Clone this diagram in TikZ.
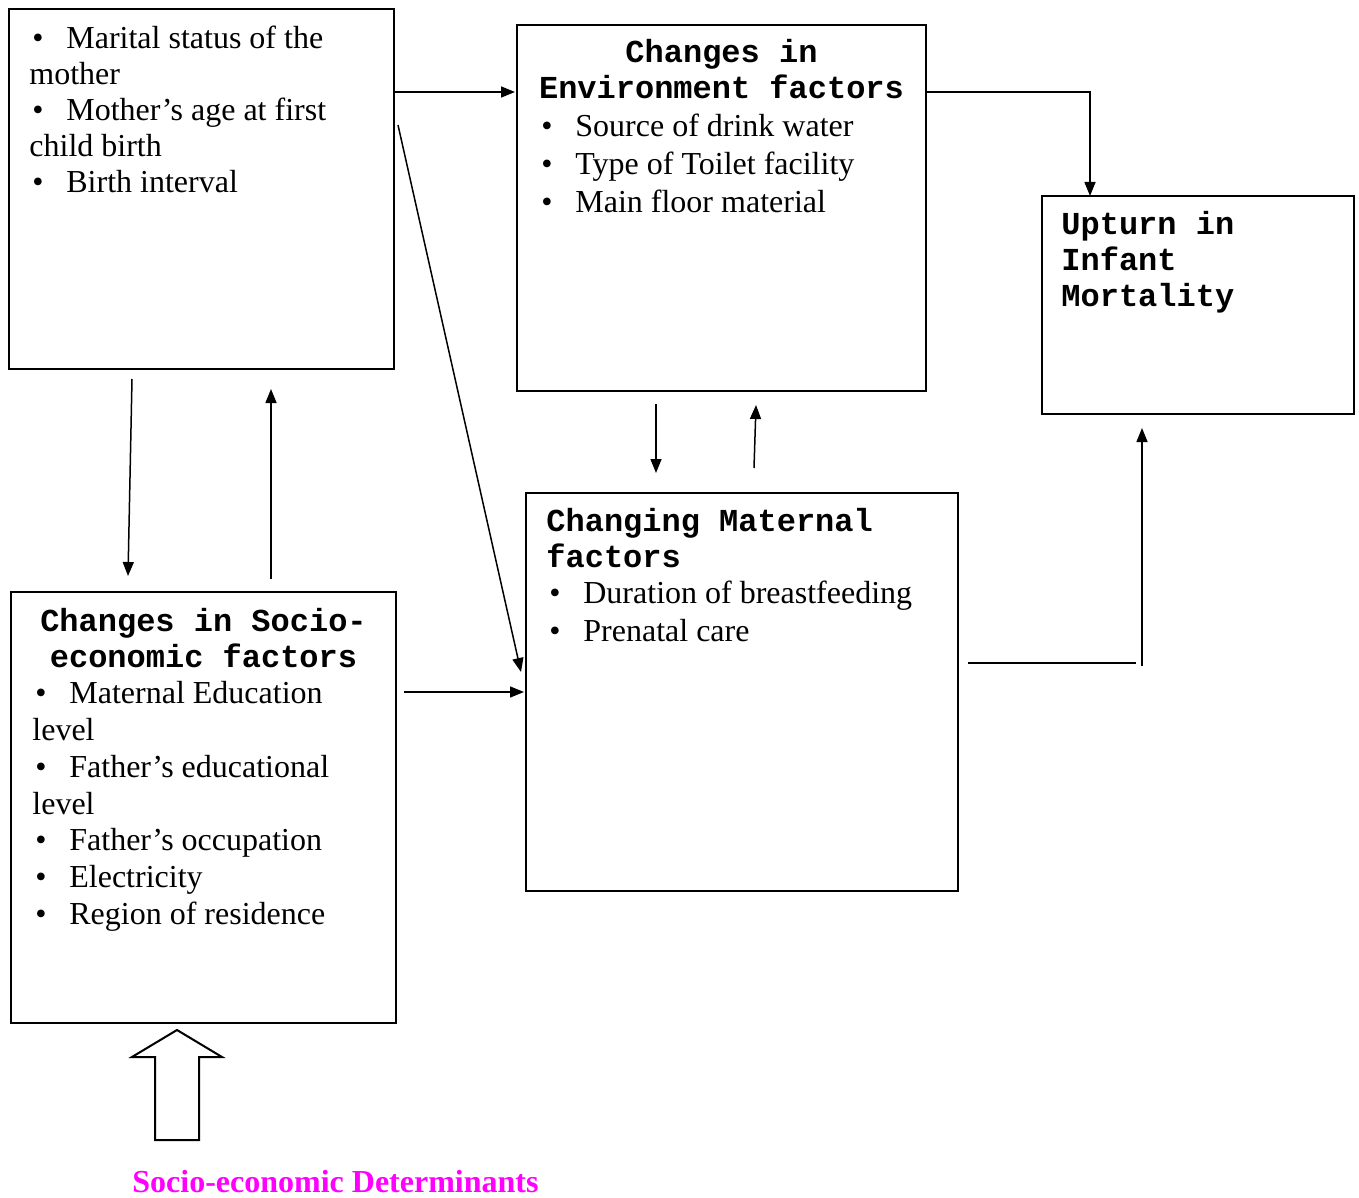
\documentclass[tikz,border=0pt]{standalone}
\usepackage{fontspec}
\setmainfont{Liberation Serif}
\newfontfamily\monofont{Liberation Mono}
\usetikzlibrary{arrows.meta,positioning}
\definecolor{determ}{HTML}{FF00FF}
\newcommand{\itm}{\hspace{1.5pt}\makebox[17pt][l]{\textbullet}}

\begin{document}
\begin{tikzpicture}[x=0.5pt,y=-0.5pt,
  box/.style={draw,line width=1pt,inner sep=0pt,outer sep=0pt,anchor=north west},
  txt/.style={inner sep=0pt,align=left,anchor=north west,font=\fontsize{16pt}{18.4pt}\selectfont},
  ttl/.style={inner sep=0pt,font=\monofont\bfseries\fontsize{16pt}{18pt}\selectfont},
  arr/.style={-{Triangle[length=7pt,width=5.5pt]},line width=0.75pt},
]
  \useasboundingbox (0,0) rectangle (1359,1198);

  % boxes
  \node[box,minimum width=192.5pt,minimum height=180pt] (mother) at (9,9) {};
  \node[box,minimum width=204.5pt,minimum height=183pt] (env) at (517,25) {};
  \node[box,minimum width=156pt,minimum height=109pt] (upturn) at (1042,196) {};
  \node[box,minimum width=192.5pt,minimum height=215.5pt] (socio) at (11,592) {};
  \node[box,minimum width=216pt,minimum height=199pt] (maternal) at (526,493) {};

  % texts
  \node[txt,font=\fontsize{16pt}{18pt}\selectfont] (motherlist) at ([shift={(20,17)}]mother.north west)
    {\itm Marital status of the\\mother\\\itm Mother’s age at first\\child birth\\\itm Birth interval};
  \node[ttl,anchor=north,align=center] (envtitle) at ([shift={(0,14)}]env.north)
    {Changes in\\Environment factors};
  \node[txt,font=\fontsize{16pt}{19pt}\selectfont] (envlist) at ([shift={(21,89)}]env.north west)
    {\itm Source of drink water\\\itm Type of Toilet facility\\\itm Main floor material};
  \node[ttl,anchor=north west,align=left] (upturntitle) at ([shift={(19,15)}]upturn.north west)
    {Upturn in\\Infant\\Mortality};
  \node[ttl,anchor=north,align=center,font=\monofont\bfseries\fontsize{16pt}{17.75pt}\selectfont]
    (sociotitle) at ([shift={(0,16)}]socio.north) {Changes in Socio-\\economic factors};
  \node[txt] (sociolist) at ([shift={(21,89)}]socio.north west)
    {\itm Maternal Education\\level\\\itm Father’s educational\\level\\\itm Father’s occupation\\\itm Electricity\\\itm Region of residence};
  \node[ttl,anchor=north west,align=left,font=\monofont\bfseries\fontsize{16pt}{17.75pt}\selectfont]
    (maternaltitle) at ([shift={(20,15)}]maternal.north west) {Changing Maternal\\factors};
  \node[txt,font=\fontsize{16pt}{19pt}\selectfont] (maternallist) at ([shift={(20,88)}]maternal.north west)
    {\itm Duration of breastfeeding\\\itm Prenatal care};

  % connectors
  \draw[arr] ([shift={(0,83)}]mother.north east) -- ([shift={(-2,67)}]env.north west);
  \draw[arr] ([shift={(0,67)}]env.north east) -| ([shift={(48,0)}]upturn.north west);
  \draw[arr] ([shift={(4,116)}]mother.north east) -- ([shift={(-5,179)}]maternal.north west);
  \draw[arr] ([shift={(123,10)}]mother.south west) -- ([shift={(117,-16)}]socio.north west);
  \draw[arr] ([shift={(260,-13)}]socio.north west) -- ([shift={(262,20)}]mother.south west);
  \draw[arr] ([shift={(8,100)}]socio.north east) -- ([shift={(-2,199)}]maternal.north west);
  \draw[arr] ([shift={(139,13)}]env.south west) -- ([shift={(130,-20)}]maternal.north west);
  \draw[arr] ([shift={(228,-25)}]maternal.north west) -- ([shift={(239,14)}]env.south west);
  \coordinate (bend) at (1136,663);
  \draw[line width=0.75pt] ([shift={(10,170)}]maternal.north east) -- (bend);
  \draw[arr] ([shift={(6,3)}]bend) -- ([shift={(100,14)}]upturn.south west);

  % block arrow and label
  \draw[line width=1pt] (177,1030) -- (222,1057) -- (199,1057) -- (199,1140)
    -- (155,1140) -- (155,1057) -- (132,1057) -- cycle;
  \node[inner sep=0pt,anchor=base west,text=determ,font=\bfseries\fontsize{16pt}{18pt}\selectfont]
    (determlabel) at (132,1192) {Socio-economic Determinants};
\end{tikzpicture}
\end{document}
